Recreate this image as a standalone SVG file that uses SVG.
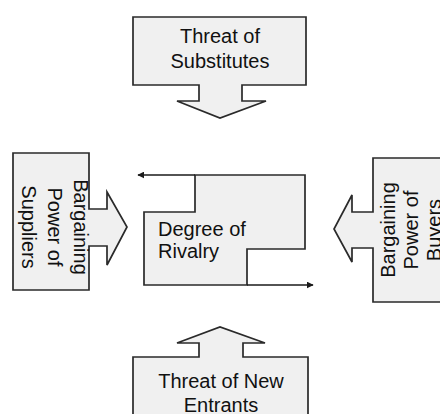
<svg xmlns="http://www.w3.org/2000/svg" width="440" height="414" viewBox="0 0 440 414">
<style>
.shape{fill:#f0f0f0;stroke:#2a2a2a;stroke-width:1.7;stroke-linejoin:miter}
.t{font-family:"Liberation Sans",Arial,sans-serif;font-size:20px;fill:#111}
.c{text-anchor:middle}
.conn{fill:none;stroke:#1a1a1a;stroke-width:1.7}
</style>
<defs>
<marker id="ah" viewBox="0 0 10 10" refX="9" refY="5" markerWidth="7" markerHeight="7" markerUnits="userSpaceOnUse" orient="auto">
<path d="M0,0 L10,5 L0,10 Z" fill="#1a1a1a"/>
</marker>
</defs>
<rect width="440" height="414" fill="#ffffff"/>
<g id="substitutes">
<polygon class="shape" points="133,17 306,17 306,85 242,85 242,101 266,101 220,118 177,101 199,101 199,85 133,85"/>
<text class="t c" x="220" y="43">Threat of</text>
<text class="t c" x="220" y="68">Substitutes</text>
</g>
<g id="suppliers">
<polygon class="shape" points="13,153 89,153 89,209 107,209 107,192 127,227 107,265 107,246 89,246 89,290 13,290"/>
<text class="t c" transform="translate(74,227) rotate(90)" x="0" y="0">Bargaining</text>
<text class="t c" transform="translate(48,227) rotate(90)" x="0" y="0">Power of</text>
<text class="t c" transform="translate(22,227) rotate(90)" x="0" y="0">Suppliers</text>
</g>
<g id="buyers">
<polygon class="shape" points="460,158 373,158 373,212 352,212 352,195 334,229 352,262 352,248 373,248 373,302 460,302"/>
<text class="t c" transform="translate(395,230) rotate(-90)" x="0" y="0">Bargaining</text>
<text class="t c" transform="translate(418,230) rotate(-90)" x="0" y="0">Power of</text>
<text class="t c" transform="translate(441,230) rotate(-90)" x="0" y="0">Buyers</text>
</g>
<g id="entrants">
<polygon class="shape" points="133,420 133,357 199,357 199,343 177,343 220,327 265,343 243,343 243,357 308,357 308,420"/>
<text class="t c" x="221" y="388">Threat of New</text>
<text class="t c" x="221" y="412">Entrants</text>
</g>
<g id="rivalry">
<polygon class="shape" points="195,175 305,175 305,249 247,249 247,285 144,285 144,212 195,212"/>
<text class="t" x="158" y="236">Degree of</text>
<text class="t" x="158" y="258">Rivalry</text>
</g>
<g id="connectors">
<line class="conn" x1="195" y1="175" x2="138" y2="175" marker-end="url(#ah)"/>
<line class="conn" x1="247" y1="285" x2="313" y2="285" marker-end="url(#ah)"/>
</g>
</svg>
